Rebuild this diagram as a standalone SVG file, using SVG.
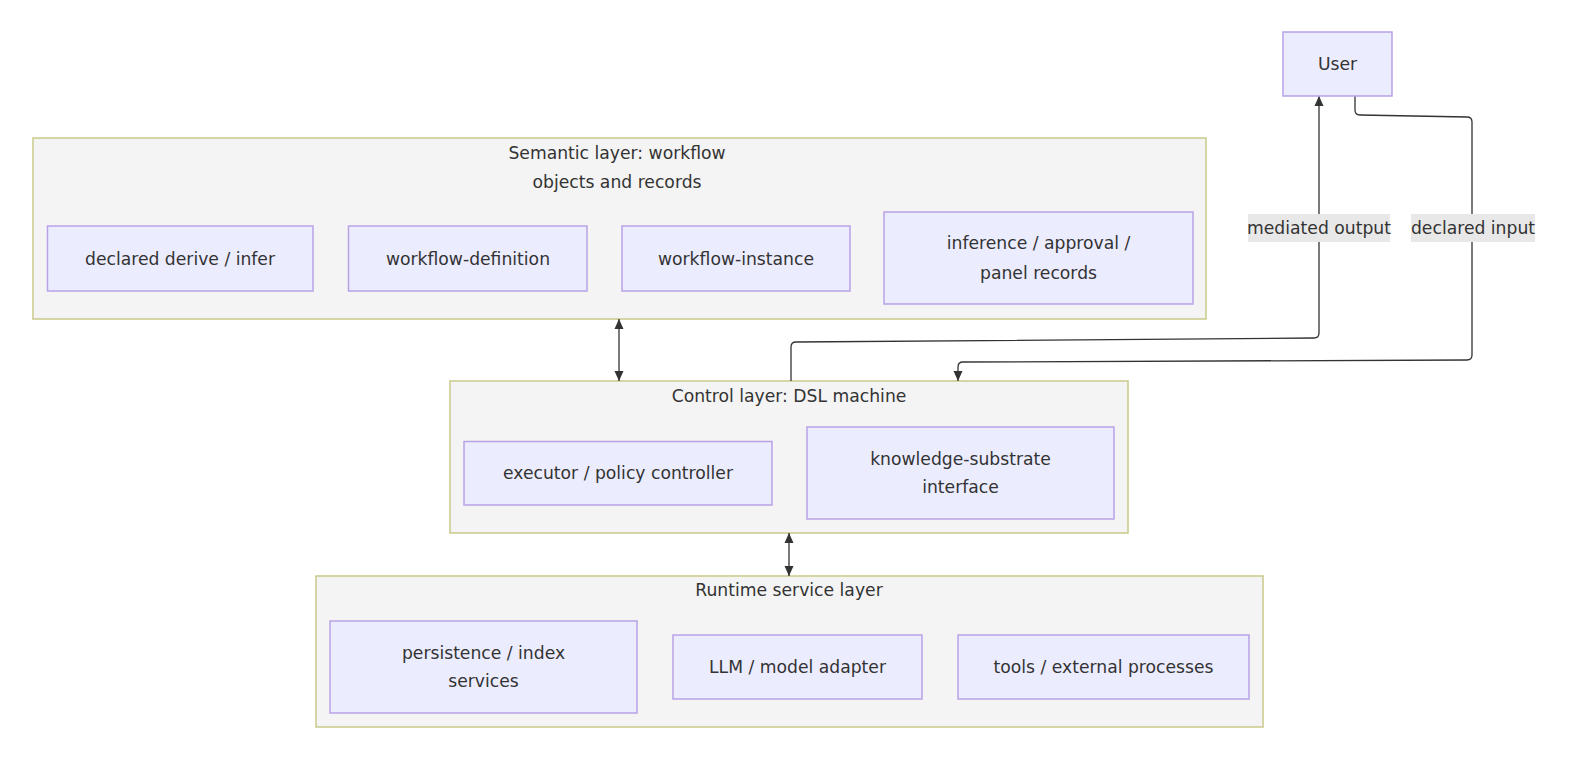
<svg xmlns="http://www.w3.org/2000/svg" width="1584" height="772" viewBox="0 0 1584 772">
<style>
.cluster{fill:#f4f4f4;stroke:#c9c98a;stroke-width:1.5}
.node{fill:#ececff;stroke:#b8a2e6;stroke-width:1.5}
.t{font-family:"DejaVu Sans",Verdana,sans-serif;font-size:17.2px;fill:#333;text-anchor:middle;dominant-baseline:central}
.edge{fill:none;stroke:#333;stroke-width:1.3}
.lbl{fill:#e8e8e8}
</style>
<defs>
<marker id="ae" markerUnits="userSpaceOnUse" markerWidth="10" markerHeight="10" viewBox="0 0 10 10" refX="10" refY="5" orient="auto"><path d="M0,0.5 L10,5 L0,9.5 z" fill="#333"/></marker>
<marker id="as" markerUnits="userSpaceOnUse" markerWidth="10" markerHeight="10" viewBox="0 0 10 10" refX="0" refY="5" orient="auto"><path d="M10,0.5 L0,5 L10,9.5 z" fill="#333"/></marker>
</defs>
<rect width="1584" height="772" fill="#fff"/>

<g id="semantic">
<rect class="cluster" x="33" y="138" width="1173" height="181"/>
<text class="t" x="617" y="153">Semantic layer: workflow</text>
<text class="t" x="617" y="182">objects and records</text>
</g>
<g id="control">
<rect class="cluster" x="450" y="381" width="678" height="152"/>
<text class="t" x="789" y="396">Control layer: DSL machine</text>
</g>
<g id="runtime">
<rect class="cluster" x="316" y="576" width="947" height="151"/>
<text class="t" x="789" y="590">Runtime service layer</text>
</g>

<g id="connectors">
<path class="edge" d="M619,319 L619,381" marker-start="url(#as)" marker-end="url(#ae)"/>
<path class="edge" d="M789,533 L789,576" marker-start="url(#as)" marker-end="url(#ae)"/>
<path class="edge" d="M791,381 V347 Q791,342 796,342 L1314,338 Q1319,338 1319,333 V96" marker-end="url(#ae)"/>
<path class="edge" d="M1355,96 V110 Q1355,115 1360,115 L1467,117 Q1472,117 1472,122 V355 Q1472,360 1467,360 L963,362 Q958,362 958,367 V381" marker-end="url(#ae)"/>
<rect class="lbl" x="1248" y="214" width="142" height="28"/>
<text class="t" x="1319" y="228">mediated output</text>
<rect class="lbl" x="1411" y="214" width="124" height="28"/>
<text class="t" x="1473" y="228">declared input</text>
</g>

<g id="user">
<rect class="node" x="1283" y="32" width="109" height="64"/>
<text class="t" x="1337.5" y="64">User</text>
</g>
<g id="derive">
<rect class="node" x="47.5" y="226" width="265.5" height="65"/>
<text class="t" x="180" y="258.5">declared derive / infer</text>
</g>
<g id="wfdef">
<rect class="node" x="348.5" y="226" width="238.5" height="65"/>
<text class="t" x="468" y="258.5">workflow-definition</text>
</g>
<g id="wfinst">
<rect class="node" x="622" y="226" width="228" height="65"/>
<text class="t" x="736" y="258.5">workflow-instance</text>
</g>
<g id="records">
<rect class="node" x="884" y="212" width="309" height="92"/>
<text class="t" x="1038.5" y="243">inference / approval /</text>
<text class="t" x="1038.5" y="272.5">panel records</text>
</g>
<g id="executor">
<rect class="node" x="464" y="441.5" width="308" height="63.5"/>
<text class="t" x="618" y="473">executor / policy controller</text>
</g>
<g id="kbi">
<rect class="node" x="807" y="427" width="307" height="92"/>
<text class="t" x="960.5" y="459">knowledge-substrate</text>
<text class="t" x="960.5" y="487">interface</text>
</g>
<g id="persist">
<rect class="node" x="330" y="621" width="307" height="92"/>
<text class="t" x="483.5" y="653">persistence / index</text>
<text class="t" x="483.5" y="681">services</text>
</g>
<g id="llm">
<rect class="node" x="673" y="635" width="249" height="64"/>
<text class="t" x="797.5" y="667">LLM / model adapter</text>
</g>
<g id="tools">
<rect class="node" x="958" y="635" width="291" height="64"/>
<text class="t" x="1103.5" y="667">tools / external processes</text>
</g>
</svg>
